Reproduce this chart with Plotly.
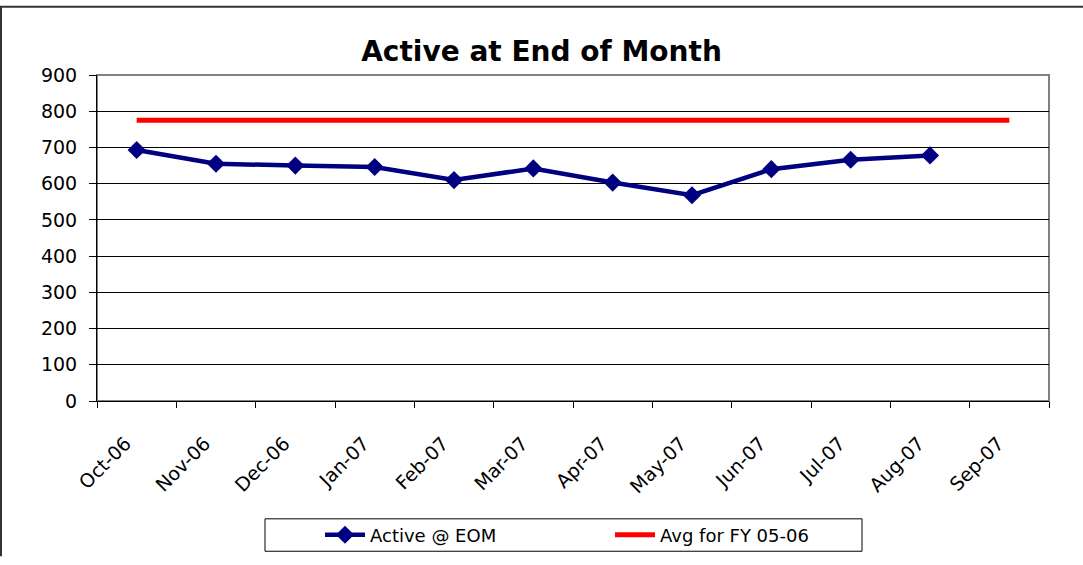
import plotly.graph_objects as go

months = ["Oct-06", "Nov-06", "Dec-06", "Jan-07", "Feb-07", "Mar-07",
          "Apr-07", "May-07", "Jun-07", "Jul-07", "Aug-07", "Sep-07"]
active_months = months[:11]
active_eom = [693, 655, 650, 646, 610, 642, 603, 568, 640, 666, 678]
avg_fy = [775] * 12
y_ticks = [0, 100, 200, 300, 400, 500, 600, 700, 800, 900]

FONT = "DejaVu Sans, Liberation Sans, Arial, sans-serif"

# category positions on a numeric axis
pos_all = list(range(len(months)))
pos_active = pos_all[:len(active_months)]
label_shift = -0.14   # Excel draws rotated labels slightly left of the category centre
label_pos = [p + label_shift for p in pos_all]
boundaries = [p - 0.5 for p in pos_all] + [pos_all[-1] + 0.5]

fig = go.Figure()
fig.add_trace(go.Scatter(
    x=pos_active, y=active_eom, name="Active @ EOM",
    mode="lines+markers",
    line=dict(color="#000080", width=4.5),
    marker=dict(symbol="diamond", size=14, color="#000080"),
    hovertext=active_months, hoverinfo="text+y",
))
fig.add_trace(go.Scatter(
    x=pos_all, y=avg_fy, name="Avg for FY 05-06",
    mode="lines",
    line=dict(color="#FF0000", width=5),
    hovertext=months, hoverinfo="text+y",
))

# plot-area geometry (px): left 97, right 1049, top 75, bottom 407
L, R, T, B = 97, 1049, 75, 407
W, H = 1083, 565
pw, ph = R - L, B - T

def px_x(x):
    return (x - L) / pw

def px_y(y):
    return (B - y) / ph

shapes = [
    # plot area border
    dict(type="rect", xref="paper", yref="paper", x0=0, x1=1, y0=0, y1=1,
         line=dict(color="#808080", width=2), layer="below"),
    # chart outer border
    dict(type="line", xref="paper", yref="paper", x0=px_x(0), x1=px_x(W),
         y0=px_y(5.5), y1=px_y(5.5), line=dict(color="#333333", width=2)),
    dict(type="line", xref="paper", yref="paper", x0=px_x(1), x1=px_x(1),
         y0=px_y(5), y1=px_y(H), line=dict(color="#333333", width=2)),
    # legend box
    dict(type="rect", xref="paper", yref="paper", x0=px_x(265), x1=px_x(862),
         y0=px_y(560), y1=px_y(527), line=dict(color="#000000", width=1)),
]

fig.update_layout(
    width=W, height=H,
    margin=dict(l=L, r=W - R, t=T, b=H - B),
    paper_bgcolor="white", plot_bgcolor="white",
    font=dict(family=FONT, size=18, color="black"),
    title=dict(text="<b>Active at End of Month</b>", x=0.5, xanchor="center",
               xref="container", y=1 - 51 / H, yanchor="middle",
               font=dict(family=FONT, size=28, color="black")),
    xaxis=dict(range=[-0.5, len(months) - 0.5],
               tickmode="array", tickvals=label_pos, ticktext=months,
               ticks="", showline=True, linecolor="black",
               showgrid=False, zeroline=False, tickangle=-45,
               ticklabelstandoff=23,
               tickfont=dict(family=FONT, size=19),
               minor=dict(tickmode="array", tickvals=boundaries,
                          ticks="outside", ticklen=6, tickcolor="black",
                          showgrid=False)),
    yaxis=dict(range=[0, 900], tickvals=y_ticks, ticks="outside", ticklen=7,
               tickcolor="black", showline=True, linecolor="black",
               showgrid=True, gridcolor="black", gridwidth=1,
               zeroline=False, ticklabelstandoff=8,
               tickfont=dict(family=FONT, size=19)),
    legend=dict(orientation="h", x=px_x(320), xanchor="left",
                y=px_y(543.5), yanchor="middle",
                bgcolor="rgba(0,0,0,0)", borderwidth=0,
                entrywidth=235, entrywidthmode="pixels",
                itemwidth=40,
                font=dict(family=FONT, size=18)),
    shapes=shapes,
    showlegend=True,
)

fig.write_html("out.html", config={"displayModeBar": False},
               post_script="document.body.style.margin='0';")
